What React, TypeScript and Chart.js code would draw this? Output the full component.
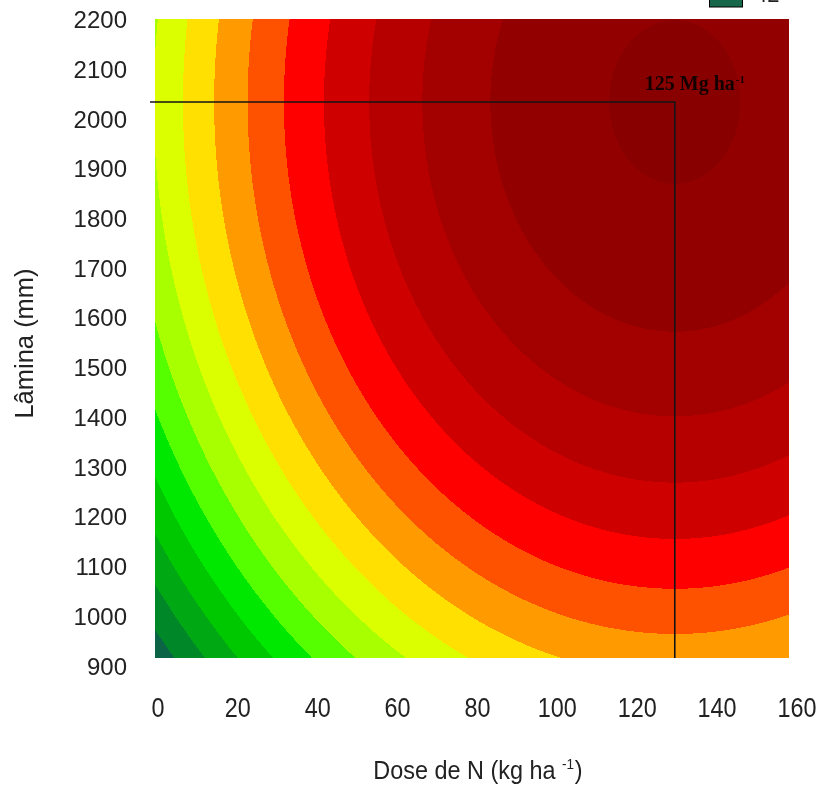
import React, { useEffect, useRef } from "react";
import { Chart, registerables } from "chart.js";

Chart.register(...registerables);

// ---- data ----
const doseTicks = [0, 20, 40, 60, 80, 100, 120, 140, 160];
const laminaTicks = [900, 1000, 1100, 1200, 1300, 1400, 1500, 1600, 1700, 1800, 1900, 2000, 2100, 2200];
const doseRange = [-0.75, 158];
const laminaRange = [920, 2205];

// fitted response surface (yield, Mg ha-1)
const peakYield = 125;
const optimumDose = 129.4;
const optimumLamina = 2038;
const curvature = [0.002954, 0.00002954]; // per (kg ha-1)^2, per mm^2

// contour boundaries (Mg ha-1), highest first, and band colours (innermost first)
const contourLevels = [124.2, 118.7, 113.2, 107.7, 102.2, 96.7, 91.2, 85.7, 80.2, 74.7, 69.2, 63.7, 58.2, 52.7, 47.2, 41.7];
const contourColors = [
  "#880000", "#930000", "#a30000", "#b60000", "#cf0000", "#ff0000", "#ff5200", "#ff9a00",
  "#ffe000", "#dcff00", "#a8ff00", "#55ff00", "#00e800", "#00c800", "#00a814", "#008828", "#0b6446",
];

const crosshairStart = -2;
const peakLabel = "125 Mg ha";
const peakLabelExp = "-1";
const legendLabel = "42";
const xTitleMain = "Dose de N (kg ha ";
const xTitleExp = "-1";
const xTitleEnd = ")";
const yTitle = "Lâmina (mm)";

const textColor = "#222";
const sansFamily = "'Liberation Sans', Arial, sans-serif";

function hexToRgb(hex: string) {
  return [parseInt(hex.slice(1, 3), 16), parseInt(hex.slice(3, 5), 16), parseInt(hex.slice(5, 7), 16)];
}

const contourPlugin = {
  id: "contourBands",
  beforeDatasetsDraw(chart: any) {
    const { ctx, chartArea, scales } = chart;
    const xs = scales.x;
    const ys = scales.y;
    const left = Math.round(chartArea.left);
    const top = Math.round(chartArea.top);
    const w = Math.round(chartArea.right) - left;
    const h = Math.round(chartArea.bottom) - top;
    const off = document.createElement("canvas");
    off.width = w;
    off.height = h;
    const octx = off.getContext("2d")!;
    const img = octx.createImageData(w, h);
    const rgb = contourColors.map(hexToRgb);
    const dn2: number[] = [];
    for (let i = 0; i < w; i++) {
      const n = xs.getValueForPixel(left + i + 0.5) - optimumDose;
      dn2.push(n * n);
    }
    for (let j = 0; j < h; j++) {
      const l = ys.getValueForPixel(top + j + 0.5) - optimumLamina;
      const lt = curvature[1] * l * l;
      for (let i = 0; i < w; i++) {
        const y = peakYield - curvature[0] * dn2[i] - lt;
        let band = 0;
        while (band < contourLevels.length && y < contourLevels[band]) band++;
        const c = rgb[band];
        const p = (j * w + i) * 4;
        img.data[p] = c[0];
        img.data[p + 1] = c[1];
        img.data[p + 2] = c[2];
        img.data[p + 3] = 255;
      }
    }
    octx.putImageData(img, 0, 0);
    ctx.drawImage(off, left, top);
  },
  afterDatasetsDraw(chart: any) {
    const { ctx, scales } = chart;
    const px = scales.x.getPixelForValue(optimumDose);
    const py = scales.y.getPixelForValue(optimumLamina);
    ctx.save();
    ctx.fillStyle = "#150000";
    ctx.textBaseline = "alphabetic";
    ctx.textAlign = "left";
    ctx.font = "bold 20px 'Liberation Serif', 'Times New Roman', serif";
    const x0 = px - 30;
    const y0 = py - 12;
    ctx.fillText(peakLabel, x0, y0);
    const w = ctx.measureText(peakLabel).width;
    ctx.font = "bold 11px 'Liberation Serif', 'Times New Roman', serif";
    ctx.fillText(peakLabelExp, x0 + w + 1, y0 - 7);
    ctx.restore();
  },
  afterDraw(chart: any) {
    const { ctx, chartArea, scales } = chart;
    ctx.save();
    // cropped legend entry at the top
    const sx = chartArea.right - 80;
    ctx.fillStyle = "#17684a";
    ctx.fillRect(sx, -12, 34, 19);
    ctx.strokeStyle = "#000";
    ctx.lineWidth = 1;
    ctx.strokeRect(sx + 0.5, -12, 33, 19);
    ctx.fillStyle = textColor;
    ctx.font = `22px ${sansFamily}`;
    ctx.textBaseline = "alphabetic";
    ctx.textAlign = "left";
    ctx.fillText(legendLabel, sx + 46, 2);

    // x tick labels (narrow face)
    ctx.font = `28px ${sansFamily}`;
    ctx.textAlign = "center";
    ctx.textBaseline = "middle";
    for (const v of doseTicks) {
      const x = scales.x.getPixelForValue(v);
      ctx.save();
      ctx.translate(x, chartArea.bottom + 51);
      ctx.scale(0.835, 1);
      ctx.fillText(String(v), 0, 0);
      ctx.restore();
    }

    // x title (narrow face) with superscript
    const sxw = 0.9;
    ctx.textAlign = "left";
    ctx.textBaseline = "alphabetic";
    ctx.font = `26px ${sansFamily}`;
    const wMain = ctx.measureText(xTitleMain).width;
    const wEnd = ctx.measureText(xTitleEnd).width;
    ctx.font = `15px ${sansFamily}`;
    const wExp = ctx.measureText(xTitleExp).width + 1;
    const total = (wMain + wExp + wEnd) * sxw;
    const cx = (chartArea.left + chartArea.right) / 2 + 6;
    const base = 779;
    ctx.save();
    ctx.translate(cx - total / 2, base);
    ctx.scale(sxw, 1);
    ctx.font = `26px ${sansFamily}`;
    ctx.fillText(xTitleMain, 0, 0);
    ctx.font = `15px ${sansFamily}`;
    ctx.fillText(xTitleExp, wMain, -10);
    ctx.font = `26px ${sansFamily}`;
    ctx.fillText(xTitleEnd, wMain + wExp, 0);
    ctx.restore();

    // y title, rotated
    ctx.save();
    ctx.translate(26, (chartArea.top + chartArea.bottom) / 2 + 5);
    ctx.rotate(-Math.PI / 2);
    ctx.font = `25.5px ${sansFamily}`;
    ctx.textAlign = "center";
    ctx.textBaseline = "middle";
    ctx.fillText(yTitle, 0, 0);
    ctx.restore();
    ctx.restore();
  },
};

export default function App() {
  const canvasRef = useRef<HTMLCanvasElement | null>(null);

  useEffect(() => {
    const canvas = canvasRef.current;
    if (!canvas) return;
    const chart = new Chart(canvas, {
      type: "scatter",
      data: {
        datasets: [
          {
            label: "optimum",
            data: [
              { x: crosshairStart, y: optimumLamina },
              { x: optimumDose, y: optimumLamina },
              { x: optimumDose, y: laminaRange[0] },
            ],
            showLine: true,
            borderColor: "#141414",
            borderWidth: 1.6,
            pointRadius: 0,
            fill: false,
            clip: false as any,
          },
        ],
      },
      options: {
        responsive: false,
        animation: false,
        devicePixelRatio: 1,
        layout: { padding: { left: 0, top: 19, right: 32, bottom: 0 } },
        plugins: { legend: { display: false }, tooltip: { enabled: false } },
        scales: {
          x: {
            type: "linear",
            bounds: "data",
            min: doseRange[0],
            max: doseRange[1],
            grid: { display: false, drawTicks: false },
            border: { display: false },
            afterBuildTicks: (s: any) => {
              s.ticks = doseTicks.map((v) => ({ value: v }));
            },
            afterFit: (s: any) => {
              s.height = 129;
              s.paddingLeft = 0;
              s.paddingRight = 0;
              s.paddingTop = 0;
              s.paddingBottom = 0;
            },
            ticks: { display: false, autoSkip: false, maxRotation: 0, minRotation: 0 },
            title: { display: false },
          },
          y: {
            type: "linear",
            bounds: "data",
            min: laminaRange[0],
            max: laminaRange[1],
            grid: { display: false, drawTicks: false },
            border: { display: false },
            afterBuildTicks: (s: any) => {
              s.ticks = laminaTicks.map((v) => ({ value: v }));
            },
            afterFit: (s: any) => {
              s.width = 155;
              s.paddingLeft = 0;
              s.paddingRight = 0;
              s.paddingTop = 0;
              s.paddingBottom = 0;
            },
            ticks: {
              autoSkip: false,
              padding: 28,
              color: textColor,
              font: { family: sansFamily, size: 24 },
              callback: (v: any) => String(v),
            },
            title: { display: false },
          },
        },
      },
      plugins: [contourPlugin],
    });
    return () => chart.destroy();
  }, []);

  return (
    <div style={{ position: "fixed", left: 0, top: 0, width: 821, height: 787 }}>
      <canvas ref={canvasRef} width={821} height={787} style={{ display: "block" }} />
    </div>
  );
}
